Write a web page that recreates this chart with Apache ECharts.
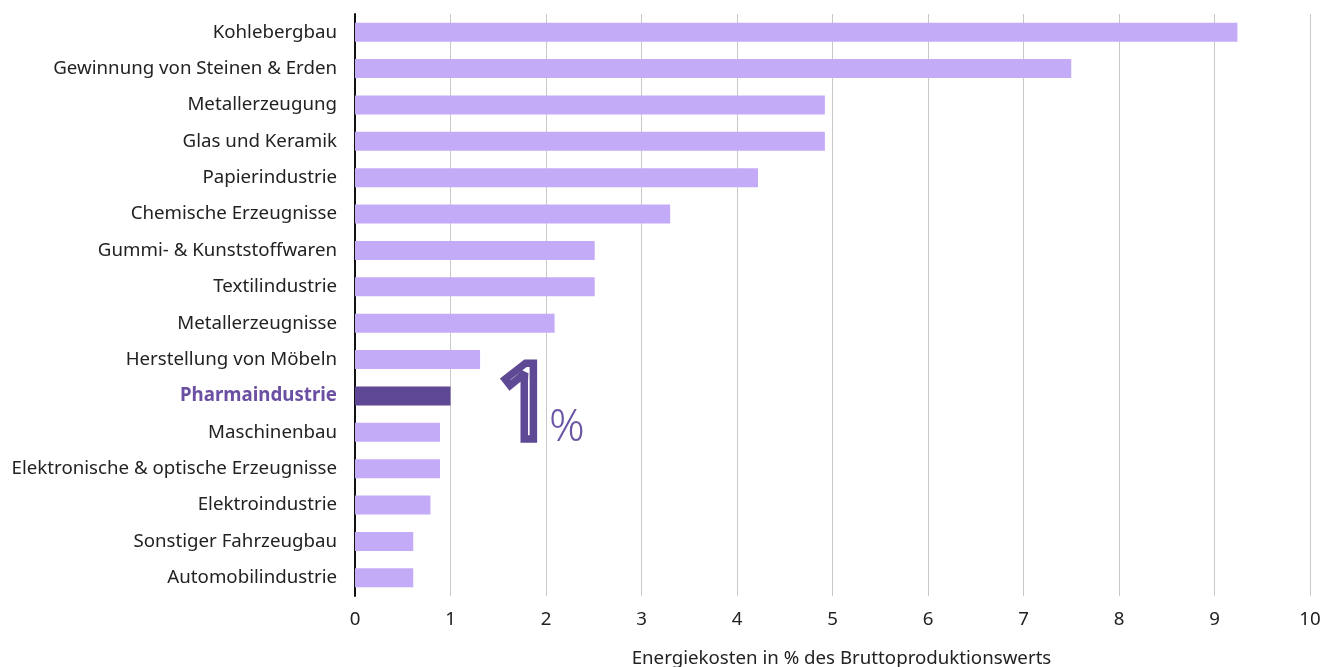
<!DOCTYPE html>
<html>
<head>
<meta charset="utf-8">
<script src="https://cdn.jsdelivr.net/npm/echarts@6/dist/echarts.min.js"></script>
<style>
  html, body { margin: 0; padding: 0; background: #fff; }
  #chart { width: 1338px; height: 667px; }
</style>
</head>
<body>
<div id="chart"></div>
<script>
// Energy costs by industry, share of gross production value (%)
const categories = [
  'Kohlebergbau',
  'Gewinnung von Steinen & Erden',
  'Metallerzeugung',
  'Glas und Keramik',
  'Papierindustrie',
  'Chemische Erzeugnisse',
  'Gummi- & Kunststoffwaren',
  'Textilindustrie',
  'Metallerzeugnisse',
  'Herstellung von Möbeln',
  'Pharmaindustrie',
  'Maschinenbau',
  'Elektronische & optische Erzeugnisse',
  'Elektroindustrie',
  'Sonstiger Fahrzeugbau',
  'Automobilindustrie'
];
const values = [9.24, 7.5, 4.92, 4.92, 4.22, 3.3, 2.51, 2.51, 2.09, 1.31, 1.0, 0.89, 0.89, 0.79, 0.61, 0.61];
const highlight = 'Pharmaindustrie';
const highlightValue = '1';
const xTicks = [0, 1, 2, 3, 4, 5, 6, 7, 8, 9, 10];
const xTitle = 'Energiekosten in % des Bruttoproduktionswerts';

const BAR = '#c4abf8';
const BAR_HI = '#5e4794';
const TEXT_HI = '#6a4fa3';
const FONT = '"Noto Sans", "Open Sans", sans-serif';
const FS = 18.7;

const chart = echarts.init(document.getElementById('chart'), null, { renderer: 'canvas' });

chart.setOption({
  animation: false,
  grid: {
    left: 355, right: 28, top: 14, bottom: 71,
    containLabel: false,
    outerBoundsMode: 'none'
  },
  xAxis: {
    type: 'value',
    min: xTicks[0],
    max: xTicks[xTicks.length - 1],
    interval: 1,
    axisLine: { show: false },
    axisTick: { show: false },
    axisLabel: { color: '#222', fontSize: FS, fontFamily: FONT, margin: 14 },
    splitLine: { show: true, lineStyle: { color: '#c8c8c8', width: 1 } },
    name: xTitle,
    nameLocation: 'middle',
    nameGap: 53,
    nameTextStyle: { color: '#222', fontSize: FS, fontFamily: FONT, padding: [0, 0, 0, 18] }
  },
  yAxis: {
    type: 'category',
    inverse: true,
    data: categories,
    axisLine: { show: true, lineStyle: { color: '#111', width: 2 } },
    axisTick: { show: false },
    axisLabel: {
      margin: 18,
      fontSize: FS,
      fontFamily: FONT,
      color: '#222',
      formatter: v => v === highlight ? '{hi|' + v + '}' : v,
      rich: {
        hi: { color: TEXT_HI, fontWeight: 'bold', fontSize: FS, fontFamily: FONT }
      }
    },
    splitLine: { show: false }
  },
  series: [{
    type: 'bar',
    barWidth: 19,
    data: values.map((v, i) => ({
      value: v,
      itemStyle: { color: categories[i] === highlight ? BAR_HI : BAR }
    })),
    z: 3
  }],
  graphic: [
    {
      // outlined "1" – a thick stroke with a hairline gap inside
      type: 'text',
      left: 492,
      top: 352,
      z: 10,
      style: {
        text: highlightValue,
        font: 'normal 106px ' + FONT,
        fill: 'rgba(0,0,0,0)',
        stroke: '#5e4a94',
        lineWidth: 7.5,
        lineJoin: 'miter'
      }
    },
    {
      type: 'text',
      left: 549,
      top: 406,
      z: 10,
      style: {
        text: '%',
        font: '300 44px ' + FONT,
        fill: '#6a55a6'
      }
    }
  ]
});
</script>
</body>
</html>
